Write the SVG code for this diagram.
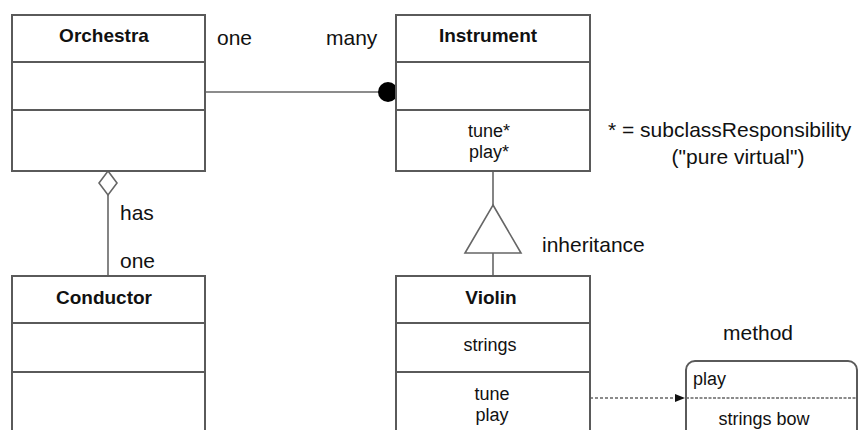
<svg xmlns="http://www.w3.org/2000/svg" width="863" height="430" viewBox="0 0 863 430">
<style>
.box{fill:#fff;stroke:#5a5a5a;stroke-width:2}
.div{stroke:#5a5a5a;stroke-width:2}
.ln{stroke:#666;stroke-width:1.6;fill:none}
.t{font-family:"Liberation Sans",Arial,sans-serif;fill:#111}
.title{font-size:19px;font-weight:bold;text-anchor:middle}
.item{font-size:18px;text-anchor:middle}
.lbl{font-size:21px}
</style>
<defs>
<marker id="arr" viewBox="0 0 10 10" refX="10" refY="5" markerWidth="10" markerHeight="10" markerUnits="userSpaceOnUse" orient="auto">
<path d="M0,1 L10,5 L0,9 z" fill="#111"/>
</marker>
</defs>
<rect width="863" height="430" fill="#fff"/>
<g id="connectors">
<line class="ln" x1="205" y1="92" x2="388" y2="92"/>
<circle cx="388" cy="92" r="10" fill="#000"/>
<polygon points="108,171 117,183 108,195 99,183" fill="#fff" stroke="#666" stroke-width="1.6"/>
<line class="ln" x1="108" y1="195" x2="108" y2="276"/>
<line class="ln" x1="493" y1="171" x2="493" y2="205"/>
<polygon points="493,205 521,253 465,253" fill="#fff" stroke="#666" stroke-width="1.6"/>
<line class="ln" x1="493" y1="253" x2="493" y2="276"/>
<line class="ln" x1="590" y1="398" x2="685" y2="398" stroke-dasharray="3,2" marker-end="url(#arr)"/>
</g>
<g id="orchestra">
<rect class="box" x="12" y="15" width="193" height="156"/>
<line class="div" x1="12" y1="62" x2="205" y2="62"/>
<line class="div" x1="12" y1="110" x2="205" y2="110"/>
<text class="t title" x="104" y="42">Orchestra</text>
</g>
<g id="instrument">
<rect class="box" x="396" y="15" width="194" height="156"/>
<line class="div" x1="396" y1="62" x2="590" y2="62"/>
<line class="div" x1="396" y1="110" x2="590" y2="110"/>
<text class="t title" x="488" y="42">Instrument</text>
<text class="t item" x="489" y="137">tune*</text>
<text class="t item" x="489" y="158">play*</text>
</g>
<g id="conductor">
<rect class="box" x="12" y="276" width="193" height="170"/>
<line class="div" x1="12" y1="323" x2="205" y2="323"/>
<line class="div" x1="12" y1="372" x2="205" y2="372"/>
<text class="t title" x="104" y="304">Conductor</text>
</g>
<g id="violin">
<rect class="box" x="396" y="276" width="194" height="170"/>
<line class="div" x1="396" y1="323" x2="590" y2="323"/>
<line class="div" x1="396" y1="372" x2="590" y2="372"/>
<text class="t title" x="491" y="304">Violin</text>
<text class="t item" x="490" y="351">strings</text>
<text class="t item" x="492" y="400">tune</text>
<text class="t item" x="492" y="421">play</text>
</g>
<g id="method">
<rect class="box" x="686" y="361" width="171" height="90" rx="9"/>
<line class="ln" x1="686" y1="398" x2="857" y2="398" stroke-dasharray="3,1.5"/>
<text class="t" x="693" y="385" font-size="18">play</text>
<text class="t item" x="764" y="425">strings bow</text>
</g>
<g id="labels">
<text class="t lbl" x="217" y="45">one</text>
<text class="t lbl" x="326" y="45">many</text>
<text class="t lbl" x="608" y="137">* = subclassResponsibility</text>
<text class="t lbl" x="738" y="164" text-anchor="middle">("pure virtual")</text>
<text class="t lbl" x="120" y="220">has</text>
<text class="t lbl" x="120" y="268">one</text>
<text class="t lbl" x="542" y="252">inheritance</text>
<text class="t lbl" x="758" y="340" text-anchor="middle">method</text>
</g>
</svg>
